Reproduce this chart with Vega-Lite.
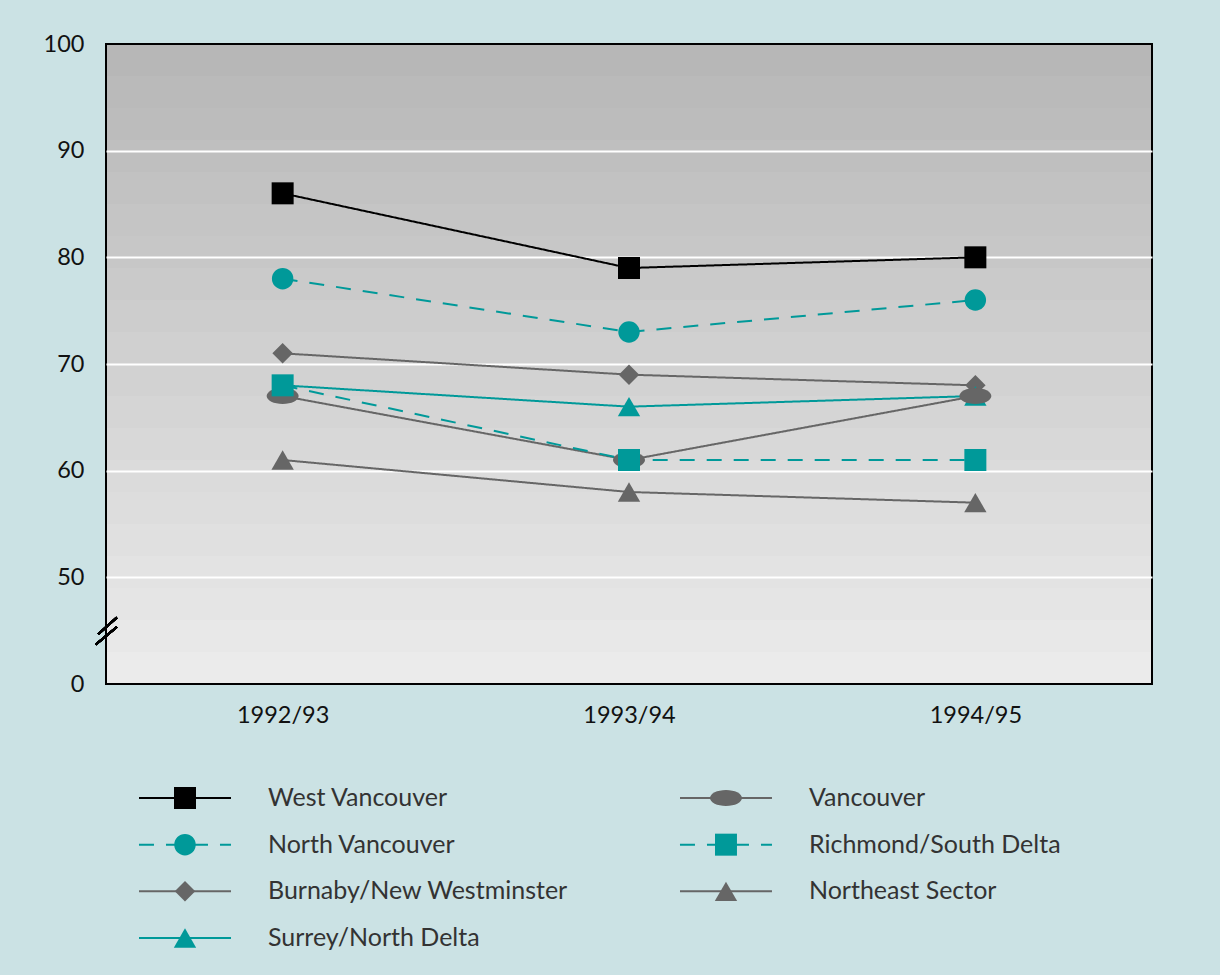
{
  "$schema": "https://vega.github.io/schema/vega-lite/v6.json",
  "background": "#cbe2e4",
  "padding": {"left": 42, "top": 31, "right": 70, "bottom": 35},
  "bounds": "flush",
  "spacing": 114,
  "config": {
    "font": "Lato",
    "axis": {"domain": false, "ticks": false, "title": null, "labelColor": "#111111"}
  },
  "vconcat": [
    {
      "width": 1046,
      "height": 640,
      "view": {
        "stroke": "#000000",
        "strokeWidth": 2,
        "fill": {
          "gradient": "linear", "x1": 0, "y1": 0, "x2": 0, "y2": 1,
          "stops": [
            {"offset": 0.00, "color": "#b7b7b7"}, {"offset": 0.05, "color": "#b7b7b7"},
            {"offset": 0.05, "color": "#bababa"}, {"offset": 0.10, "color": "#bababa"},
            {"offset": 0.10, "color": "#bcbcbc"}, {"offset": 0.15, "color": "#bcbcbc"},
            {"offset": 0.15, "color": "#bfbfbf"}, {"offset": 0.20, "color": "#bfbfbf"},
            {"offset": 0.20, "color": "#c2c2c2"}, {"offset": 0.25, "color": "#c2c2c2"},
            {"offset": 0.25, "color": "#c5c5c5"}, {"offset": 0.30, "color": "#c5c5c5"},
            {"offset": 0.30, "color": "#c7c7c7"}, {"offset": 0.35, "color": "#c7c7c7"},
            {"offset": 0.35, "color": "#cacaca"}, {"offset": 0.40, "color": "#cacaca"},
            {"offset": 0.40, "color": "#cdcdcd"}, {"offset": 0.45, "color": "#cdcdcd"},
            {"offset": 0.45, "color": "#d0d0d0"}, {"offset": 0.50, "color": "#d0d0d0"},
            {"offset": 0.50, "color": "#d2d2d2"}, {"offset": 0.55, "color": "#d2d2d2"},
            {"offset": 0.55, "color": "#d5d5d5"}, {"offset": 0.60, "color": "#d5d5d5"},
            {"offset": 0.60, "color": "#d8d8d8"}, {"offset": 0.65, "color": "#d8d8d8"},
            {"offset": 0.65, "color": "#dbdbdb"}, {"offset": 0.70, "color": "#dbdbdb"},
            {"offset": 0.70, "color": "#dddddd"}, {"offset": 0.75, "color": "#dddddd"},
            {"offset": 0.75, "color": "#e0e0e0"}, {"offset": 0.80, "color": "#e0e0e0"},
            {"offset": 0.80, "color": "#e3e3e3"}, {"offset": 0.85, "color": "#e3e3e3"},
            {"offset": 0.85, "color": "#e5e5e5"}, {"offset": 0.90, "color": "#e5e5e5"},
            {"offset": 0.90, "color": "#e8e8e8"}, {"offset": 0.95, "color": "#e8e8e8"},
            {"offset": 0.95, "color": "#ebebeb"}, {"offset": 1.00, "color": "#ebebeb"}
          ]
        }
      },
      "data": {"values": [
        {"series": "West Vancouver", "year": "1992/93", "value": 86},
        {"series": "West Vancouver", "year": "1993/94", "value": 79},
        {"series": "West Vancouver", "year": "1994/95", "value": 80},
        {"series": "North Vancouver", "year": "1992/93", "value": 78},
        {"series": "North Vancouver", "year": "1993/94", "value": 73},
        {"series": "North Vancouver", "year": "1994/95", "value": 76},
        {"series": "Burnaby/New Westminster", "year": "1992/93", "value": 71},
        {"series": "Burnaby/New Westminster", "year": "1993/94", "value": 69},
        {"series": "Burnaby/New Westminster", "year": "1994/95", "value": 68},
        {"series": "Surrey/North Delta", "year": "1992/93", "value": 68},
        {"series": "Surrey/North Delta", "year": "1993/94", "value": 66},
        {"series": "Surrey/North Delta", "year": "1994/95", "value": 67},
        {"series": "Vancouver", "year": "1992/93", "value": 67},
        {"series": "Vancouver", "year": "1993/94", "value": 61},
        {"series": "Vancouver", "year": "1994/95", "value": 67},
        {"series": "Richmond/South Delta", "year": "1992/93", "value": 68},
        {"series": "Richmond/South Delta", "year": "1993/94", "value": 61},
        {"series": "Richmond/South Delta", "year": "1994/95", "value": 61},
        {"series": "Northeast Sector", "year": "1992/93", "value": 61},
        {"series": "Northeast Sector", "year": "1993/94", "value": 58},
        {"series": "Northeast Sector", "year": "1994/95", "value": 57}
      ]},
      "encoding": {
        "x": {
          "field": "year", "type": "ordinal",
          "scale": {"type": "point", "padding": 0.51},
          "axis": {"labelAngle": 0, "labelFontSize": 23.5, "labelPadding": 19}
        },
        "y": {
          "field": "value", "type": "quantitative",
          "scale": {"domain": [40, 100], "nice": false, "zero": false},
          "axis": {
            "values": [40, 50, 60, 70, 80, 90, 100],
            "labelExpr": "datum.value == 40 ? '0' : datum.label",
            "labelFontSize": 23.5,
            "labelPadding": 22,
            "grid": true,
            "gridColor": "#ffffff",
            "gridWidth": 2,
            "gridOpacity": {"condition": {"test": "datum.value == 40 || datum.value == 100", "value": 0}, "value": 1}
          }
        }
      },
      "layer": [
        {
          "mark": {"type": "line", "strokeWidth": 2},
          "encoding": {
            "detail": {"field": "series"},
            "color": {
              "field": "series", "type": "nominal", "legend": null,
              "scale": {
                "domain": ["West Vancouver", "North Vancouver", "Burnaby/New Westminster", "Surrey/North Delta", "Vancouver", "Richmond/South Delta", "Northeast Sector"],
                "range": ["#000000", "#009999", "#666666", "#009999", "#666666", "#009999", "#666666"]
              }
            },
            "strokeDash": {
              "field": "series", "type": "nominal", "legend": null,
              "scale": {
                "domain": ["West Vancouver", "North Vancouver", "Burnaby/New Westminster", "Surrey/North Delta", "Vancouver", "Richmond/South Delta", "Northeast Sector"],
                "range": [[1, 0], [15, 12], [1, 0], [1, 0], [1, 0], [15, 12], [1, 0]]
              }
            }
          }
        },
        {
          "mark": {"type": "point", "filled": true, "opacity": 1, "strokeWidth": 0},
          "encoding": {
            "color": {"field": "series", "type": "nominal", "legend": null},
            "shape": {
              "field": "series", "type": "nominal", "legend": null,
              "scale": {
                "domain": ["West Vancouver", "North Vancouver", "Burnaby/New Westminster", "Surrey/North Delta", "Vancouver", "Richmond/South Delta", "Northeast Sector"],
                "range": ["square", "circle", "diamond", "triangle-up", "M-1,0A1,0.5,0,1,0,1,0A1,0.5,0,1,0,-1,0Z", "square", "triangle-up"]
              }
            },
            "size": {
              "field": "series", "type": "nominal", "legend": null,
              "scale": {
                "type": "ordinal",
                "domain": ["West Vancouver", "North Vancouver", "Burnaby/New Westminster", "Surrey/North Delta", "Vancouver", "Richmond/South Delta", "Northeast Sector"],
                "range": [484, 460, 420, 500, 1024, 484, 500]
              }
            }
          }
        },
        {
          "mark": {"type": "point", "shape": "M-0.85,1.15L0.9,-0.3M-0.65,0.3L0.9,-1.1", "size": 576, "filled": false, "stroke": "#000000", "strokeWidth": 2, "opacity": 1},
          "encoding": {
            "x": {"value": 0},
            "y": {"datum": 45}
          }
        }
      ]
    },
    {
      "width": 1046,
      "height": 140,
      "view": {"stroke": null, "fill": null},
      "data": {"values": [
        {"series": "West Vancouver", "col": 0, "row": 0},
        {"series": "North Vancouver", "col": 0, "row": 1},
        {"series": "Burnaby/New Westminster", "col": 0, "row": 2},
        {"series": "Surrey/North Delta", "col": 0, "row": 3},
        {"series": "Vancouver", "col": 1, "row": 0},
        {"series": "Richmond/South Delta", "col": 1, "row": 1},
        {"series": "Northeast Sector", "col": 1, "row": 2}
      ]},
      "encoding": {
        "x": {"field": "col", "type": "quantitative", "axis": null, "scale": {"domain": [-0.146, 1.7875], "nice": false, "zero": false}},
        "y": {"field": "row", "type": "quantitative", "axis": null, "scale": {"domain": [0, 3], "reverse": true, "nice": false}}
      },
      "layer": [
        {
          "mark": {"type": "rule", "strokeWidth": 2, "xOffset": -46, "x2Offset": 46},
          "encoding": {
            "x2": {"field": "col"},
            "color": {"field": "series", "type": "nominal", "legend": null},
            "strokeDash": {"field": "series", "type": "nominal", "legend": null}
          }
        },
        {
          "mark": {"type": "point", "filled": true, "opacity": 1, "strokeWidth": 0},
          "encoding": {
            "color": {"field": "series", "type": "nominal", "legend": null},
            "shape": {"field": "series", "type": "nominal", "legend": null},
            "size": {
              "field": "series", "type": "nominal", "legend": null,
              "scale": {
                "type": "ordinal",
                "domain": ["West Vancouver", "North Vancouver", "Burnaby/New Westminster", "Surrey/North Delta", "Vancouver", "Richmond/South Delta", "Northeast Sector"],
                "range": [484, 460, 420, 500, 1024, 484, 500]
              }
            }
          }
        },
        {
          "mark": {"type": "text", "align": "left", "baseline": "middle", "dx": 83, "fontSize": 25, "color": "#333333"},
          "encoding": {
            "text": {"field": "series"}
          }
        }
      ]
    }
  ]
}
